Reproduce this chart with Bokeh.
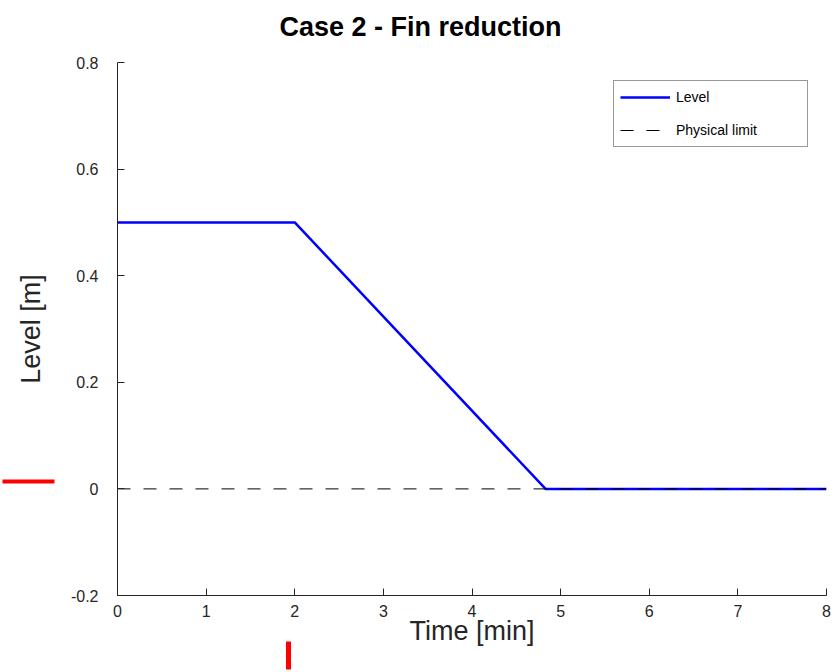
from bokeh.plotting import figure
from bokeh.models import (FixedTicker, CustomJSTickFormatter, Legend, LegendItem,
                          LinearAxis, Title)
from bokeh.embed import file_html
from bokeh.resources import INLINE

# ---- data ----
time_min = [0.0, 2.0, 4.83, 8.0]
level_m = [0.5, 0.5, 0.0, 0.0]
limit_time = [0.0, 8.0]
limit_level = [0.0, 0.0]
x_ticks = [0, 1, 2, 3, 4, 5, 6, 7, 8]
y_ticks = [-0.2, 0.0, 0.2, 0.4, 0.6, 0.8]
# positions of the two stray red marks seen outside the axes
red_mark_x = [1.935]
red_mark_y = [0.014]

FONT = "Liberation Sans"
AX = "#262626"

p = figure(width=839, height=672, output_backend="svg", toolbar_location=None,
           x_range=(0, 8), y_range=(-0.2, 0.8),
           min_border_left=117, min_border_right=13,
           min_border_top=62, min_border_bottom=77)
p.title = None

p.outline_line_color = None
p.background_fill_color = "white"
p.border_fill_color = "white"
p.xgrid.visible = False
p.ygrid.visible = False

for ax in (p.xaxis[0], p.yaxis[0]):
    ax.axis_line_color = AX
    ax.major_tick_line_color = AX
    ax.major_tick_in = 7
    ax.major_tick_out = 0
    ax.minor_tick_line_color = None
    ax.major_label_text_font = FONT
    ax.major_label_text_font_size = "16px"
    ax.major_label_text_color = AX
    ax.axis_label_text_font = FONT
    ax.axis_label_text_font_size = "27px"
    ax.axis_label_text_font_style = "normal"
    ax.axis_label_text_color = AX

p.xaxis.ticker = FixedTicker(ticks=x_ticks)
p.yaxis.ticker = FixedTicker(ticks=y_ticks)
p.yaxis.formatter = CustomJSTickFormatter(
    code="return Math.abs(tick) < 1e-9 ? '0' : tick.toFixed(1);")
p.xaxis.axis_label = "Time [min]"
p.yaxis.axis_label = "Level [m]"
p.xaxis.major_label_standoff = 9
p.xaxis.axis_label_standoff = -4
p.yaxis.major_label_standoff = 19
p.yaxis.axis_label_standoff = 22

r_level = p.line(time_min, level_m, line_color="#0000ff", line_width=2.5)
r_limit = p.line(limit_time, limit_level, line_color="black", line_width=1,
                 line_dash="13 13")

legend = Legend(items=[LegendItem(label="Level", renderers=[r_level]),
                       LegendItem(label="Physical limit", renderers=[r_limit])],
                location=(496, 448))
legend.label_text_font = FONT
legend.label_text_font_size = "14px"
legend.label_text_color = "black"
legend.glyph_width = 50
legend.glyph_height = 20
legend.label_height = 20
legend.label_width = 125
legend.label_standoff = 6
legend.padding = 6
legend.spacing = 13
legend.margin = 0
legend.border_line_color = "#333333"
legend.border_line_width = 1
legend.background_fill_alpha = 1
p.add_layout(legend, "center")


def bare_axis(ticks, t_in, t_out, width, color, alpha=1.0):
    a = LinearAxis(ticker=FixedTicker(ticks=ticks))
    a.formatter = CustomJSTickFormatter(code="return '';")
    a.axis_line_color = None
    a.minor_tick_line_color = None
    a.major_label_text_font_size = "1px"
    a.major_label_standoff = 0
    a.major_tick_line_color = color
    a.major_tick_line_alpha = alpha
    a.major_tick_line_width = width
    a.major_tick_line_cap = "butt"
    a.major_tick_in = t_in
    a.major_tick_out = t_out
    return a

# invisible spacer between frame and title, then the title itself
p.add_layout(bare_axis([4.0], 0, 12, 1, "white", 0.0), "above")
p.add_layout(Title(text="Case 2 - Fin reduction", align="left", offset=162,
                   text_font=FONT, text_font_size="27px",
                   text_font_style="bold", text_color="black", standoff=17),
             "above")

# stray red marks, drawn as single ticks of extra (otherwise invisible) axes
p.add_layout(bare_axis(red_mark_y, 42, 10, 4, "red"), "left")
p.add_layout(bare_axis(red_mark_x, 7, 21, 5, "red"), "below")

open("out.html", "w").write(file_html(p, INLINE))
